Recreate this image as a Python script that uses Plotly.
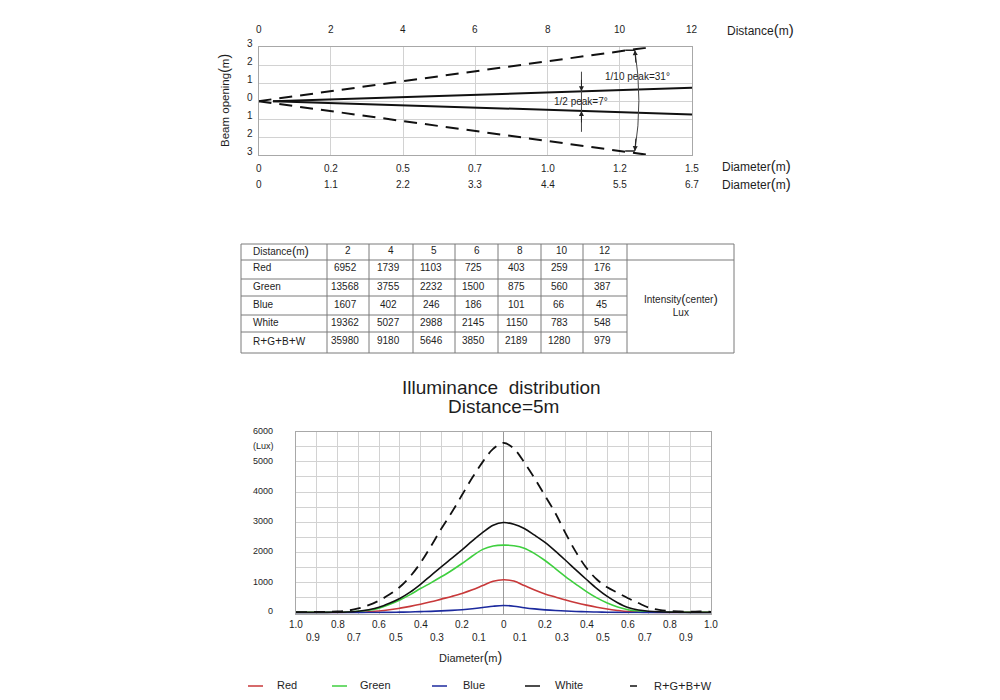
import plotly.graph_objects as go

W, H = 1000, 700
FONT = "Liberation Sans, Arial, sans-serif"
INK = "#1e1e1e"


def px(x):
    return x / W


def py(y):
    return 1 - y / H


def big_paren(word, unit="m", size=15):
    return (f"{word}<span style='font-size:{size}px'>(</span>{unit}"
            f"<span style='font-size:{size}px'>)</span>")


# ---------------- top chart : beam opening ----------------
distance_ticks = [0, 2, 4, 6, 8, 10, 12]
beam_ticks = [3, 2, 1, 0, -1, -2, -3]
diameter_half_labels = ["0", "0.2", "0.5", "0.7", "1.0", "1.2", "1.5"]
diameter_tenth_labels = ["0", "1.1", "2.2", "3.3", "4.4", "5.5", "6.7"]
half_peak_x = [0.4, 12]
half_peak_y = [0, 0.74]
tenth_peak_x = [0, 10.92]
tenth_peak_y = [0, 3.03]
half_peak_label = "1/2 peak=7°"
tenth_peak_label = "1/10 peak=31°"

# ---------------- table ----------------
table_distances = [2, 4, 5, 6, 8, 10, 12]
table_rows = ["Red", "Green", "Blue", "White", "R+G+B+W"]
red_lux = [6952, 1739, 1103, 725, 403, 259, 176]
green_lux = [13568, 3755, 2232, 1500, 875, 560, 387]
blue_lux = [1607, 402, 246, 186, 101, 66, 45]
white_lux = [19362, 5027, 2988, 2145, 1150, 783, 548]
rgbw_lux = [35980, 9180, 5646, 3850, 2189, 1280, 979]

# ---------------- bottom chart : illuminance at 5 m ----------------
diam_x = [-1.0, -0.95, -0.9, -0.85, -0.8, -0.75, -0.7, -0.65, -0.6, -0.55,
          -0.5, -0.45, -0.4, -0.35, -0.3, -0.25, -0.2, -0.15, -0.1, -0.05,
          0.0, 0.05, 0.1, 0.15, 0.2, 0.25, 0.3, 0.35, 0.4, 0.45,
          0.5, 0.55, 0.6, 0.65, 0.7, 0.75, 0.8, 0.85, 0.9, 0.95, 1.0]
rgbw_dist = [20, 20, 25, 30, 40, 70, 140, 250, 400, 600,
             850, 1200, 1650, 2200, 2780, 3320, 3900, 4480, 5000, 5430,
             5630, 5440, 4980, 4450, 3880, 3300, 2620, 2000, 1480, 1100,
             840, 660, 480, 320, 170, 95, 55, 40, 35, 40, 30]
white_dist = [10, 10, 10, 12, 15, 25, 50, 100, 180, 310,
              470, 680, 940, 1230, 1520, 1800, 2080, 2380, 2660, 2900,
              2990, 2930, 2790, 2570, 2330, 2040, 1730, 1410, 1100, 800,
              540, 330, 170, 90, 50, 30, 20, 15, 12, 10, 10]
green_dist = [10, 10, 10, 12, 15, 25, 45, 80, 150, 270,
              420, 600, 800, 990, 1190, 1400, 1630, 1880, 2100, 2210,
              2240, 2220, 2140, 1960, 1730, 1460, 1190, 940, 700, 490,
              320, 190, 100, 55, 30, 20, 15, 12, 10, 10, 10]
red_dist = [5, 5, 5, 8, 10, 14, 20, 32, 55, 95,
            150, 210, 280, 360, 450, 540, 640, 760, 900, 1040,
            1090, 1050, 900, 750, 620, 520, 420, 330, 250, 180,
            120, 75, 40, 25, 15, 10, 8, 6, 5, 5, 5]
blue_dist = [0, 0, 0, 1, 1, 2, 3, 5, 8, 12,
             18, 25, 35, 45, 60, 78, 100, 130, 170, 215,
             240, 215, 165, 125, 95, 72, 55, 40, 30, 22,
             15, 10, 7, 4, 3, 2, 1, 1, 0, 0, 0]
x_row1_ticks = [-1.0, -0.8, -0.6, -0.4, -0.2, 0.0, 0.2, 0.4, 0.6, 0.8, 1.0]
x_row2_ticks = [-0.9, -0.7, -0.5, -0.3, -0.1, 0.1, 0.3, 0.5, 0.7, 0.9]
lux_ticks = [6000, 5000, 4000, 3000, 2000, 1000, 0]
series_names = ["Red", "Green", "Blue", "White", "R+G+B+W"]
series_colors = ["#c8393a", "#3fcf3f", "#1c2a9e", "#111111", "#111111"]
series_values = [red_dist, green_dist, blue_dist, white_dist, rgbw_dist]

fig = go.Figure()

# top chart lines
fig.add_trace(go.Scatter(x=half_peak_x, y=half_peak_y, mode="lines",
                         line=dict(color="#111", width=2), xaxis="x", yaxis="y", hoverinfo="skip"))
fig.add_trace(go.Scatter(x=half_peak_x, y=[-v for v in half_peak_y], mode="lines",
                         line=dict(color="#111", width=2), xaxis="x", yaxis="y", hoverinfo="skip"))
fig.add_trace(go.Scatter(x=tenth_peak_x, y=tenth_peak_y, mode="lines",
                         line=dict(color="#111", width=2, dash="13px,8px"), xaxis="x", yaxis="y",
                         hoverinfo="skip", cliponaxis=False))
fig.add_trace(go.Scatter(x=tenth_peak_x, y=[-v for v in tenth_peak_y], mode="lines",
                         line=dict(color="#111", width=2, dash="13px,8px"), xaxis="x", yaxis="y",
                         hoverinfo="skip", cliponaxis=False))

# bottom chart curves
for name, color, vals in zip(series_names, series_colors, series_values):
    dash = "11px,7px" if name == "R+G+B+W" else "solid"
    fig.add_trace(go.Scatter(x=diam_x, y=vals, mode="lines", name=name,
                             line=dict(color=color, width=1.6 if name != "R+G+B+W" else 1.8,
                                       dash=dash, shape="spline", smoothing=1.0),
                             xaxis="x2", yaxis="y2", hoverinfo="skip"))

ann = []


def A(text, x, y, xref="paper", yref="paper", size=10, xanchor="center", yanchor="middle",
      color=INK, **kw):
    d = dict(text=text, x=x, y=y, xref=xref, yref=yref, showarrow=False,
             font=dict(family=FONT, size=size, color=color), xanchor=xanchor, yanchor=yanchor)
    d.update(kw)
    ann.append(d)


# ---- top chart labels
for d in distance_ticks:
    A(str(d), d, py(29.5), xref="x", size=10)
for b in beam_ticks:
    A(str(abs(b)), px(250), b, yref="y", size=10, yshift=4)
for d, lab in zip(distance_ticks, diameter_half_labels):
    A(lab, d, py(168), xref="x", size=10)
for d, lab in zip(distance_ticks, diameter_tenth_labels):
    A(lab, d, py(184.5), xref="x", size=10)
A(big_paren("Distance"), px(725), py(30), size=12, xanchor="left")
A(big_paren("Diameter"), px(720), py(166), size=12, xanchor="left")
A(big_paren("Diameter"), px(720), py(183.5), size=12, xanchor="left")
A(big_paren("Beam opening", size=14), px(224), py(101), size=11.5, textangle=-90)
A(half_peak_label, 8.94, 0, xref="x", yref="y", size=10)
A(tenth_peak_label, 10.5, 1.36, xref="x", yref="y", size=10)

# arrows of the beam-angle dimensions
for tip_y, ay in [(0.545, -13), (-0.545, 13)]:
    ann.append(dict(x=8.94, y=tip_y, xref="x", yref="y", ax=0, ay=ay, text="",
                    showarrow=True, arrowhead=2, arrowsize=1, arrowwidth=1, arrowcolor="#222"))
for tip_y, ay in [(2.84, 14), (-2.78, -14)]:
    ann.append(dict(x=10.42, y=tip_y, xref="x", yref="y", ax=1, ay=ay, text="",
                    showarrow=True, arrowhead=2, arrowsize=1, arrowwidth=1, arrowcolor="#222"))

shapes = []
shapes.append(dict(type="line", xref="x", yref="y", x0=8.94, x1=8.94, y0=1.64, y1=-1.71,
                   line=dict(color="#444", width=1)))
shapes.append(dict(type="path", xref="x", yref="y", path="M 10.42,2.84 Q 10.64,0.03 10.42,-2.78",
                   line=dict(color="#444", width=1)))
shapes.append(dict(type="line", xref="x", yref="y", x0=10.15, x1=10.42, y0=2.84, y1=2.84,
                   line=dict(color="#222", width=1.5)))
shapes.append(dict(type="line", xref="x", yref="y", x0=10.15, x1=10.42, y0=-2.78, y1=-2.78,
                   line=dict(color="#222", width=1.5)))

# ---- table
col_edges = [241, 327, 369, 413, 455, 498, 541, 583, 627, 734]
row_edges = [244, 260, 279, 296, 315, 332, 353]
tcol = "#7a7a7a"
for i, yy in enumerate(row_edges):
    x_end = col_edges[-1] if i in (0, 1, len(row_edges) - 1) else col_edges[-2]
    shapes.append(dict(type="line", xref="paper", yref="paper", x0=px(col_edges[0]), x1=px(x_end),
                       y0=py(yy), y1=py(yy), line=dict(color=tcol, width=1)))
for xx in col_edges:
    shapes.append(dict(type="line", xref="paper", yref="paper", x0=px(xx), x1=px(xx),
                       y0=py(row_edges[0]), y1=py(row_edges[-1]), line=dict(color=tcol, width=1)))


def row_mid(i):
    return (row_edges[i] + row_edges[i + 1]) / 2 - 1.5


def col_mid(j):
    return (col_edges[j] + col_edges[j + 1]) / 2


A(big_paren("Distance", size=13), px(251), py(row_mid(0)), size=10, xanchor="left")
for j, d in enumerate(table_distances):
    A(str(d), px(col_mid(j + 1)), py(row_mid(0)), size=10)
table_values = [red_lux, green_lux, blue_lux, white_lux, rgbw_lux]
for i, (name, vals) in enumerate(zip(table_rows, table_values)):
    label = name.replace("+", "<span style='font-size:12px'>+</span>")
    A(label, px(251), py(row_mid(i + 1)), size=10, xanchor="left")
    for j, v in enumerate(vals):
        A(str(v), px(col_mid(j + 1) - 3), py(row_mid(i + 1)), size=10)
A(big_paren("Intensity", "center", size=13) + "<br>Lux", px(681), py(304), size=10)

# ---- bottom chart labels
A("Illuminance  distribution", px(501), py(387.5), size=19)
A("Distance=5m", px(503), py(406), size=19)
for t in lux_ticks:
    if t == 0:
        A("0", px(266), t, yref="y2", size=9, xanchor="left", yshift=2)
    else:
        A(str(t), px(251), t, yref="y2", size=9, xanchor="left", yshift=1)
A("(Lux)", px(251), 5500, yref="y2", size=9, xanchor="left", yshift=1)
for t in x_row1_ticks:
    A("0" if t == 0 else f"{abs(t):.1f}", t, py(624.5), xref="x2", size=10)
for t in x_row2_ticks:
    A(f"{abs(t):.1f}", t, py(637), xref="x2", size=10, xshift=-4)
A(big_paren("Diameter", size=14), px(470), py(657), size=11)

# legend drawn below the chart
leg_line_x = [(248, 263), (332, 347), (432, 447), (525, 540), (630, 637)]
leg_text_x = [275, 358, 461, 553, 652]
for name, color, (x0, x1), tx in zip(series_names, series_colors, leg_line_x, leg_text_x):
    shapes.append(dict(type="line", xref="paper", yref="paper", x0=px(x0), x1=px(x1),
                       y0=py(686), y1=py(686), line=dict(color=color, width=1.5)))
    label = name.replace("+", "<span style='font-size:13px'>+</span>")
    A(label, px(tx), py(686), size=11, xanchor="left", yshift=1)

grid = "#d2d2d2"
border = "#a8a8a8"
fig.update_layout(
    width=W, height=H, margin=dict(l=0, r=0, t=0, b=0),
    paper_bgcolor="white", plot_bgcolor="white", showlegend=False,
    font=dict(family=FONT, color=INK),
    xaxis=dict(domain=[px(258.5), px(692)], range=[0, 12], dtick=2, tick0=0,
               showgrid=True, gridcolor=grid, gridwidth=1, showticklabels=False, ticks="",
               showline=True, linecolor=border, mirror=True, zeroline=False, anchor="y",
               fixedrange=True),
    yaxis=dict(domain=[py(155), py(47.3)], range=[-3, 3], dtick=1, tick0=0,
               showgrid=True, gridcolor=grid, gridwidth=1, showticklabels=False, ticks="",
               showline=True, linecolor=border, mirror=True, zeroline=False, anchor="x",
               fixedrange=True),
    xaxis2=dict(domain=[px(296), px(711)], range=[-1, 1], dtick=0.1, tick0=0,
                showgrid=True, gridcolor=grid, gridwidth=1, showticklabels=False, ticks="",
                showline=True, linecolor=border, mirror=True,
                zeroline=True, zerolinecolor="#9a9a9a", zerolinewidth=1, anchor="y2",
                fixedrange=True),
    yaxis2=dict(domain=[py(613.6), py(431.7)], range=[-30, 6000], dtick=500, tick0=0,
                showgrid=True, gridcolor=grid, gridwidth=1, showticklabels=False, ticks="",
                showline=True, linecolor=border, mirror=True, zeroline=False, anchor="x2",
                fixedrange=True),
    annotations=ann, shapes=shapes,
)

fig.write_html("out.html", config={"displayModeBar": False},
               post_script="document.body.style.margin='0px';document.body.style.overflow='hidden';")
